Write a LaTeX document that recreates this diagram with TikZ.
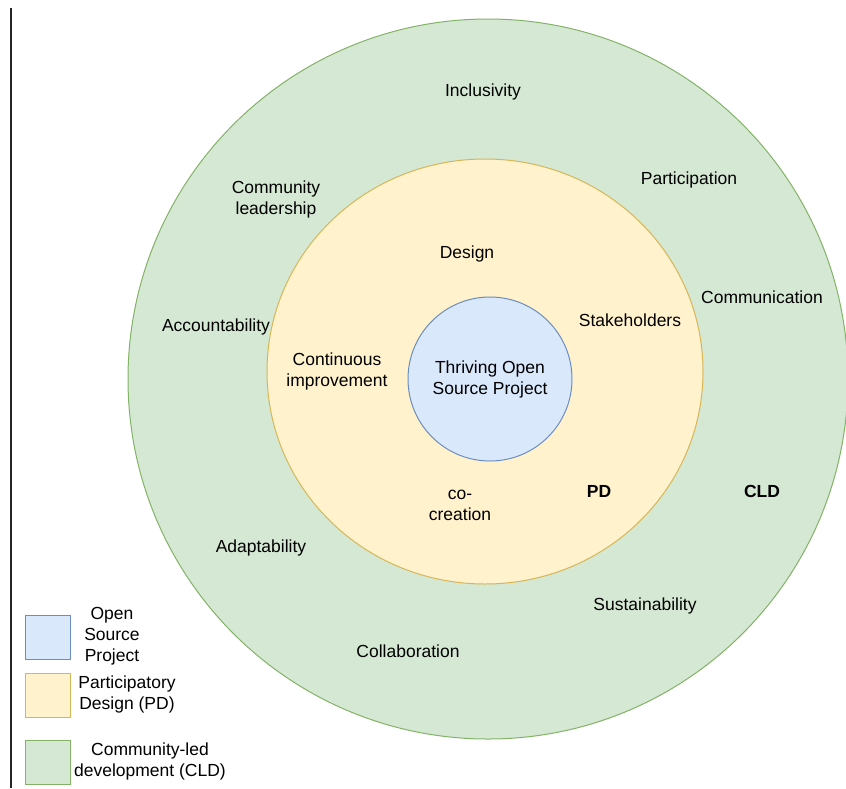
\documentclass[tikz,border=0pt]{standalone}
\usepackage{fontspec}
\setmainfont{Liberation Sans}
\usetikzlibrary{shapes.geometric}
\definecolor{cldfill}{HTML}{D5E8D4}
\definecolor{cldline}{HTML}{82B366}
\definecolor{pdfill}{HTML}{FFF2CC}
\definecolor{pdline}{HTML}{D6B656}
\definecolor{osfill}{HTML}{DAE8FC}
\definecolor{osline}{HTML}{6C8EBF}
\tikzset{
	ring/.style   = {draw, ellipse, line width=1pt, inner sep=0pt},
	tag/.style    = {align=center, inner sep=0pt, font=\fontsize{17.5}{21}\selectfont},
	keybox/.style = {draw, rectangle, line width=1pt, minimum width=45pt, minimum height=44pt},
}

\begin{document}
\begin{tikzpicture}[x=1pt, y=-1pt]
		\useasboundingbox (0,0) rectangle (846,788);

		% Draw the three rings, outermost first
		\node[ring, fill=cldfill, draw=cldline, minimum width=720pt, minimum height=720pt] (cld) at (488,379) {};
		\node[ring, fill=pdfill , draw=pdline , minimum width=436pt, minimum height=425pt] (pd) at (485,371.5) {};
		\node[ring, fill=osfill , draw=osline , minimum width=164pt, minimum height=164pt, tag] (core) at (490,379) {Thriving Open\\Source Project};

		% Values of community-led development
		\node[tag] (inclusivity)   at (483,92)  {Inclusivity};
		\node[tag] (leadership)    at (276,199) {Community\\leadership};
		\node[tag] (participation) at (689,180) {Participation};
		\node[tag] (communication) at (762,297) {Communication};
		\node[tag] (accountability)at (216,327) {Accountability};
		\node[tag] (adaptability)  at (261,548) {Adaptability};
		\node[tag] (sustainability)at (645,606) {Sustainability};
		\node[tag] (collaboration) at (408,651) {Collaboration};
		\node[tag, font=\fontsize{17.5}{21}\selectfont\bfseries] (cldname) at (762,491) {CLD};

		% Values of participatory design
		\node[tag] (design)       at (467,254) {Design};
		\node[tag] (stakeholders) at (630,320) {Stakeholders};
		\node[tag] (improvement)  at (337,371) {Continuous\\improvement};
		\node[tag] (cocreation)   at (460,505) {co-\\creation};
		\node[tag, font=\fontsize{17.5}{21}\selectfont\bfseries] (pdname) at (599,491) {PD};

		% Divider on the left
		\draw[line width=2pt, black!85] (11,8) -- (11,788);

		% Legend
		\node[keybox, fill=osfill, draw=osline] (keyos)  at (47.5,637) {};
		\node[keybox, fill=pdfill, draw=pdline] (keypd)  at (47.5,695.5) {};
		\node[keybox, fill=cldfill, draw=cldline] (keycld) at (47.5,762.5) {};
		\node[tag] at (112,636) {Open\\Source\\Project};
		\node[tag] at (127,694) {Participatory\\Design (PD)};
		\node[tag] at (150,761) {Community-led\\development (CLD)};
	\end{tikzpicture}
\end{document}
